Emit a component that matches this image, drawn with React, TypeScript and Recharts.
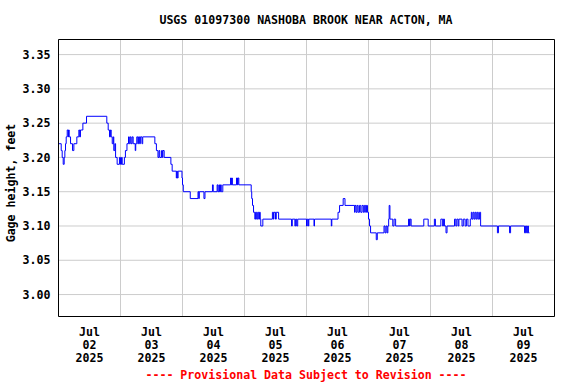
import React from 'react';
import { LineChart, Line, XAxis, YAxis, CartesianGrid, ReferenceLine } from 'recharts';

// Hours since 2025-07-02 00:00 (local) at which the gage height changed
const stageHours = [
  0, 1.05, 1.43, 1.82, 2.2, 2.46, 2.72, 2.98, 3.37, 3.75, 3.9, 4.14, 4.66, 5.43, 5.95, 7.1, 7.88, 8.2, 8.5, 9.43,
  10.85, 18.7, 19.24, 19.75, 20.1, 20.4, 20.8, 21.2, 21.4, 21.8, 22.1, 22.7, 23.6, 24.0, 24.4, 24.66, 25.5, 25.9,
  26.5, 27.1, 27.4, 27.75, 28.1, 28.5, 28.9, 29.7, 29.9, 30.3, 30.7, 31.0, 31.4, 31.7, 32.3, 32.6, 37.3, 37.9,
  38.5, 38.9, 39.2, 39.9, 40.2, 40.4, 40.9, 43.5, 44.0, 45.6, 45.8, 46.0, 46.3, 47.8, 48.0, 48.3, 51.0, 54.0,
  54.3, 54.5, 56.3, 56.7, 59.6, 59.9, 61.4, 61.7, 62.1, 62.3, 62.7, 63.0, 63.6, 66.6, 66.9, 67.1, 67.3, 68.9,
  69.3, 69.5, 69.8, 74.6, 74.8, 75.1, 75.5, 76.0, 76.3, 76.7, 77.1, 77.5, 77.8, 78.1, 78.3, 79.1, 82.8, 83.2,
  83.4, 84.0, 84.3, 85.2, 90.2, 90.5, 91.5, 91.8, 92.2, 92.6, 96.0, 96.3, 96.7, 96.9, 98.9, 99.1, 105.6, 105.8,
  108.2, 108.8, 110.2, 110.9, 114.6, 114.8, 115.2, 115.6, 116.0, 116.5, 117.0, 117.5, 118.0, 118.4, 118.9, 119.2,
  119.6, 120.0, 120.4, 120.8, 123.0, 123.4, 126.0, 126.4, 126.8, 127.2, 127.5, 127.8, 128.0, 128.3, 129.4, 129.9,
  130.5, 135.5, 135.9, 136.1, 136.5, 141.4, 143.1, 145.5, 145.9, 148.0, 148.7, 149.0, 149.4, 150.0, 150.4, 153.3,
  153.8, 154.2, 154.7, 155.0, 156.2, 156.7, 157.4, 157.9, 158.5, 159.4, 159.8, 160.1, 160.5, 160.9, 161.3, 161.7,
  162.1, 162.5, 163.0, 163.4, 169.9, 170.3, 174.6, 175.0, 180.4, 180.8, 181.2, 181.6, 181.9, 182.3,
];

// Gage height, feet
const stageFeet = [
  3.22, 3.21, 3.2, 3.19, 3.2, 3.21, 3.22, 3.23, 3.24, 3.23, 3.24, 3.23, 3.22, 3.21, 3.22, 3.23, 3.24, 3.23, 3.24, 3.25,
  3.26, 3.25, 3.24, 3.23, 3.24, 3.23, 3.22, 3.23, 3.21, 3.22, 3.2, 3.19, 3.2, 3.19, 3.2, 3.19, 3.2, 3.21,
  3.22, 3.23, 3.22, 3.23, 3.22, 3.23, 3.22, 3.21, 3.22, 3.23, 3.22, 3.23, 3.22, 3.23, 3.22, 3.23, 3.22, 3.21,
  3.2, 3.21, 3.2, 3.21, 3.2, 3.21, 3.2, 3.19, 3.18, 3.17, 3.18, 3.17, 3.18, 3.17, 3.16, 3.15, 3.14, 3.15,
  3.14, 3.15, 3.14, 3.15, 3.16, 3.15, 3.16, 3.15, 3.16, 3.15, 3.16, 3.15, 3.16, 3.17, 3.16, 3.17, 3.16, 3.17,
  3.16, 3.17, 3.16, 3.15, 3.14, 3.13, 3.12, 3.11, 3.12, 3.11, 3.12, 3.11, 3.12, 3.11, 3.1, 3.11, 3.12, 3.11,
  3.12, 3.11, 3.12, 3.11, 3.1, 3.11, 3.1, 3.11, 3.1, 3.11, 3.1, 3.11, 3.1, 3.11, 3.1, 3.11, 3.1, 3.11,
  3.12, 3.13, 3.14, 3.13, 3.12, 3.13, 3.12, 3.13, 3.12, 3.13, 3.12, 3.13, 3.12, 3.13, 3.12, 3.13,
  3.12, 3.11, 3.1, 3.09, 3.08, 3.09, 3.1, 3.09, 3.1, 3.09, 3.1, 3.11, 3.13, 3.11, 3.1, 3.11,
  3.1, 3.11, 3.1, 3.11, 3.1, 3.11, 3.1, 3.11, 3.1, 3.11, 3.1, 3.11, 3.1, 3.09, 3.1, 3.11,
  3.1, 3.11, 3.1, 3.11, 3.1, 3.11, 3.1, 3.11, 3.1, 3.11, 3.12, 3.11, 3.12, 3.11, 3.12, 3.11,
  3.12, 3.11, 3.12, 3.1, 3.09, 3.1, 3.09, 3.1, 3.09, 3.1, 3.09, 3.1, 3.09, 3.09,
];

const yTicks = [3.0, 3.05, 3.1, 3.15, 3.2, 3.25, 3.3, 3.35];
const yDomain = [2.968, 3.372];
const xDomain = [0, 192];
const dayBoundaries = [24, 48, 72, 96, 120, 144, 168];
const tickHours = [12, 36, 60, 84, 108, 132, 156, 180];
const dayLabels = ['02', '03', '04', '05', '06', '07', '08', '09'];
const monthLabel = 'Jul';
const yearLabel = '2025';

const titleText = 'USGS 01097300 NASHOBA BROOK NEAR ACTON, MA';
const yAxisTitle = 'Gage height, feet';
const footerText = '---- Provisional Data Subject to Revision ----';

const data = stageHours.map((h, i) => ({ h, v: stageFeet[i] }));

const FONT = '"DejaVu Sans Mono", "Liberation Mono", monospace';
const FS = 11.6;

const DateTick = (props: any) => {
  const { x, y, payload } = props;
  const i = tickHours.indexOf(payload.value);
  return (
    <text x={x} y={y} textAnchor="middle" fontFamily={FONT} fontSize={FS} fontWeight="bold" fill="#000">
      <tspan x={x} dy={19}>{monthLabel}</tspan>
      <tspan x={x} dy={13.5}>{dayLabels[i]}</tspan>
      <tspan x={x} dy={13}>{yearLabel}</tspan>
    </text>
  );
};

const textBase: React.CSSProperties = {
  position: 'absolute',
  fontFamily: FONT,
  fontSize: FS,
  fontWeight: 'bold',
  lineHeight: '14px',
  whiteSpace: 'nowrap',
  textAlign: 'center',
};

export default function App() {
  return (
    <div style={{ position: 'absolute', left: 0, top: 0, width: 576, height: 384, background: '#fff' }}>
      <LineChart width={576} height={384} data={data} margin={{ top: 39.5, right: 21.5, bottom: 0, left: 0 }}>
        <CartesianGrid vertical={false} stroke="#cccccc" />
        {dayBoundaries.map((d) => (
          <ReferenceLine key={d} x={d} stroke="#cccccc" />
        ))}
        <XAxis
          dataKey="h"
          type="number"
          domain={xDomain}
          ticks={tickHours}
          interval={0}
          tick={<DateTick />}
          tickLine={false}
          axisLine={false}
          tickSize={0}
          tickMargin={0}
          height={67.5}
          allowDataOverflow
        />
        <YAxis
          type="number"
          domain={yDomain}
          ticks={yTicks}
          interval={0}
          tickFormatter={(v: number) => v.toFixed(2)}
          tickLine={false}
          axisLine={false}
          tickSize={0}
          tickMargin={8}
          width={58.5}
          allowDataOverflow
          tick={{ fontFamily: FONT, fontSize: FS, fontWeight: 'bold', fill: '#000' }}
        />
        <Line
          dataKey="v"
          type="stepAfter"
          stroke="#0000ff"
          strokeWidth={1}
          dot={false}
          activeDot={false}
          isAnimationActive={false}
        />
        <ReferenceLine x={xDomain[0]} stroke="#000" />
        <ReferenceLine x={xDomain[1]} stroke="#000" />
        <ReferenceLine y={yDomain[0]} stroke="#000" />
        <ReferenceLine y={yDomain[1]} stroke="#000" />
      </LineChart>
      <div style={{ ...textBase, left: 58, width: 496, top: 13 }}>{titleText}</div>
      <div
        style={{
          ...textBase,
          left: 11 - 100,
          top: 182.5 - 7,
          width: 200,
          height: 14,
          transform: 'rotate(-90deg)',
        }}
      >
        {yAxisTitle}
      </div>
      <div style={{ ...textBase, left: 58, width: 496, top: 368, color: '#ff0000' }}>{footerText}</div>
    </div>
  );
}
